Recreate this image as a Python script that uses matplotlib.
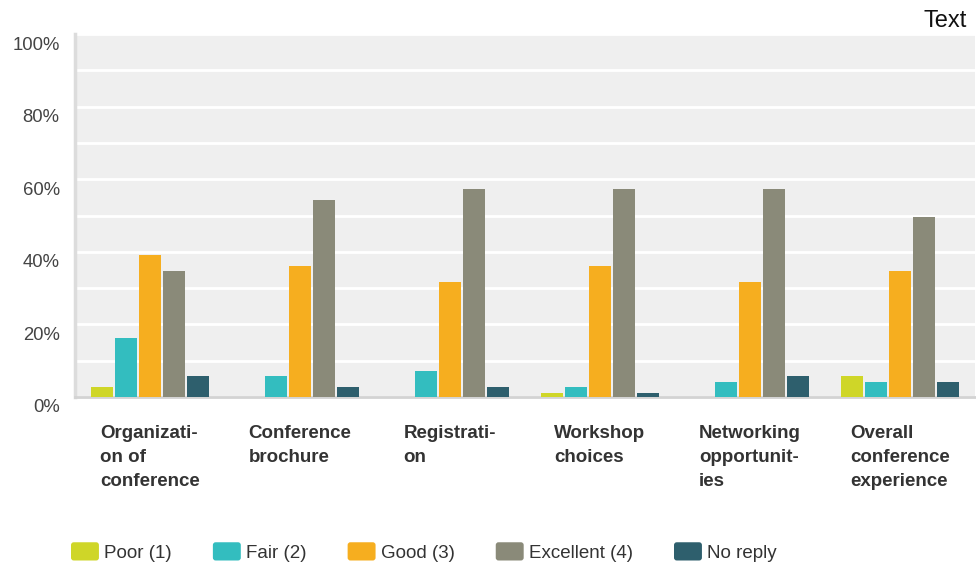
import matplotlib
matplotlib.use("Agg")
import matplotlib.pyplot as plt
import matplotlib.transforms as mtransforms
from matplotlib.patches import FancyBboxPatch, Patch
from matplotlib.legend_handler import HandlerPatch
import numpy as np

plt.rcParams['font.family'] = ['Liberation Sans', 'DejaVu Sans']

# data (percent of respondents)
categories = ["Organizati-\non of\nconference", "Conference\nbrochure", "Registrati-\non",
              "Workshop\nchoices", "Networking\nopportunit-\nies", "Overall\nconference\nexperience"]
series_names = ["Poor (1)", "Fair (2)", "Good (3)", "Excellent (4)", "No reply"]
poor = [2.8, 0, 0, 1.2, 0, 5.8]
fair = [16.3, 5.8, 7.2, 2.8, 4.2, 4.2]
good = [39.2, 36.2, 31.8, 36.2, 31.8, 34.8]
excellent = [34.8, 54.4, 57.2, 57.2, 57.2, 49.7]
no_reply = [5.8, 2.8, 2.8, 1.2, 5.8, 4.2]
colors = ["#cfd628", "#33bdbf", "#f6ae1f", "#8a8a79", "#2e5f6d"]

W, H = 976, 567
fig = plt.figure(figsize=(W / 100, H / 100), dpi=100)
ax = fig.add_axes([75 / W, 1 - 397 / H, 900 / W, 363 / H])
ax.set_facecolor("#efefef")

x = np.arange(len(categories))
width = 22 / 150
step = 24 / 150
for i, (vals, name) in enumerate(zip([poor, fair, good, excellent, no_reply], series_names)):
    ax.bar(x + (i - 2) * step, vals, width, color=colors[i], label=name, zorder=3)

ax.set_xlim(-0.5, len(categories) - 0.5)
ax.set_ylim(0, 100)
ax.set_xticks([])
ax.set_yticks(np.arange(0, 101, 20))
ax.set_yticks(np.arange(10, 100, 20), minor=True)
ax.set_yticklabels([f"{v}%" for v in range(0, 101, 20)])
ax.grid(True, axis='y', which='both', color='white', linewidth=2, zorder=1)
ax.tick_params(axis='y', which='both', length=0, pad=11, labelsize=13.3, labelcolor='#444444')

# shift y tick labels a bit below their grid lines
offset = mtransforms.ScaledTranslation(0, -9 / 100, fig.dpi_scale_trans)
for lab in ax.get_yticklabels():
    lab.set_transform(lab.get_transform() + offset)

for s in ['top', 'right']:
    ax.spines[s].set_visible(False)
ax.spines['left'].set_color('#dcdcdc')
ax.spines['left'].set_linewidth(2.5)
ax.spines['bottom'].set_color('#d3d3d3')
ax.spines['bottom'].set_linewidth(2)

# category labels
trans = mtransforms.blended_transform_factory(ax.transData, fig.transFigure)
for xi, cat in zip(x, categories):
    ax.text(xi, 1 - 425 / H, cat, transform=trans, ha='center', va='top',
            multialignment='left', fontsize=13.5, fontweight='bold',
            color='#333333', linespacing=1.55)


class RoundHandler(HandlerPatch):
    def create_artists(self, legend, orig_handle, xdescent, ydescent,
                       width, height, fontsize, trans):
        p = FancyBboxPatch((-xdescent + 2, -ydescent + 2), width - 4, height - 4,
                           boxstyle="round,pad=2", facecolor=orig_handle.get_facecolor(),
                           edgecolor='none', transform=trans)
        return [p]


handles = [Patch(facecolor=c, label=n) for c, n in zip(colors, series_names)]
fig.legend(handles=handles, loc='center left', bbox_to_anchor=(71 / W, 1 - 552 / H),
           ncol=5, frameon=False, fontsize=13.5, borderpad=0, borderaxespad=0,
           handlelength=1.49, handleheight=1.12, handletextpad=0.27,
           columnspacing=2.2, labelcolor='#333333',
           handler_map={Patch: RoundHandler()})

fig.text(967 / W, 1 - 27 / H, "Text", ha='right', va='baseline', fontsize=17, color='#111111')

fig.savefig("out.png", dpi=100)
